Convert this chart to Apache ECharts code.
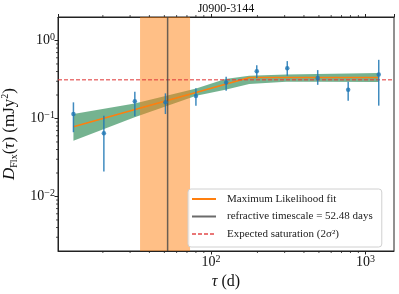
<!DOCTYPE html>
<html><head><meta charset="utf-8">
<script src="https://cdn.jsdelivr.net/npm/echarts@6/dist/echarts.min.js"></script>
<style>html,body{margin:0;padding:0;background:#fff}#c{width:399px;height:294px}</style>
</head><body><div id="c"></div>
<script>
// ---- data ----
const tau      = [12.9, 20.3, 32.2, 50.8, 80, 125.5, 198, 312, 491, 773, 1219];
const dVal     = [0.114, 0.0647, 0.166, 0.161, 0.194, 0.29, 0.402, 0.442, 0.33, 0.233, 0.367];
const errLo    = [0.0667, 0.0209, 0.107, 0.114, 0.146, 0.227, 0.33, 0.353, 0.27, 0.169, 0.146];
const errHi    = [0.161, 0.1086, 0.22, 0.21, 0.245, 0.343, 0.483, 0.544, 0.417, 0.296, 0.565];
const fitX     = [12.9, 178, 1219];
const fitY     = [0.0785, 0.336, 0.336];
const bandX    = [12.9, 32.1, 80.3, 124, 177, 307, 486, 1219];
const bandHi   = [0.114, 0.156, 0.243, 0.32, 0.352, 0.367, 0.371, 0.382];
const bandLo   = [0.052, 0.1035, 0.196, 0.233, 0.276, 0.296, 0.296, 0.293];
const spanRange = [34.8, 73.3];
const tRef     = 52.48;
const satLevel = 0.313;
const xRange   = [10.25, 1530];
const yRange   = [0.002, 2];
const xMinorTicks = [20,30,40,50,60,70,80,90,200,300,400,500,600,700,800,900];
const yMinorTicks = [0.003,0.004,0.005,0.006,0.007,0.008,0.009,0.02,0.03,0.04,0.05,0.06,0.07,0.08,0.09,0.2,0.3,0.4,0.5,0.6,0.7,0.8,0.9];
const titleText = 'J0900-3144';
const legendNames = ['Maximum Likelihood fit', 'refractive timescale = 52.48 days', 'Expected saturation (2\u03C3\u00B2)'];

const SERIF = "'Liberation Serif', 'DejaVu Serif', serif";
const chart = echarts.init(document.getElementById('c'), null, {renderer: 'canvas'});

function powLabel(v) {
  const l = Math.log10(v), e = Math.round(l);
  if (Math.abs(l - e) > 1e-6) return '';
  return '{b|10}{s|' + (e < 0 ? '\u2212' + (-e) : e) + '}';
}
const tickRich = {
  b: {fontFamily: SERIF, fontSize: 14, color: '#111', lineHeight: 16},
  s: {fontFamily: SERIF, fontSize: 10, color: '#111', lineHeight: 10, verticalAlign: 'top'}
};

const option = {
  animation: false,
  grid: {left: 58, right: 5, top: 17, bottom: 43, outerBoundsMode: 'none', containLabel: false,
         show: true, borderColor: '#222', borderWidth: 1, backgroundColor: 'transparent'},
  xAxis: [{
    type: 'log', min: xRange[0], max: xRange[1], position: 'bottom',
    axisLine: {show: true, lineStyle: {color: '#222', width: 1}},
    axisTick: {show: true, length: 3.5, lineStyle: {color: '#222'}},
    splitLine: {show: false}, minorTick: {show: false},
    axisLabel: {formatter: powLabel, rich: tickRich, margin: 3, showMinLabel: false, showMaxLabel: false},
    name: '{i|\u03C4}{n| (d)}', nameLocation: 'middle', nameGap: 20,
    nameTextStyle: {rich: {
      i: {fontFamily: SERIF, fontStyle: 'italic', fontSize: 16, color: '#111'},
      n: {fontFamily: SERIF, fontSize: 16, color: '#111'}}}
  }, {
    type: 'log', min: xRange[0], max: xRange[1], position: 'top',
    axisLine: {show: true, lineStyle: {color: '#222', width: 1}},
    axisTick: {show: true, length: 3, lineStyle: {color: '#222'}},
    axisLabel: {show: false}, splitLine: {show: false}
  }],
  yAxis: [{
    type: 'log', min: yRange[0], max: yRange[1],
    axisLine: {show: true, lineStyle: {color: '#222', width: 1}},
    axisTick: {show: true, length: 3.5, lineStyle: {color: '#222'}},
    splitLine: {show: false},
    axisLabel: {formatter: powLabel, rich: tickRich, margin: 3, showMinLabel: false, showMaxLabel: false},
    name: '{i|D}{sub|Flx}{n|(}{i|\u03C4}{n|) (mJy}{sup|2}{n|)}',
    nameLocation: 'middle', nameGap: 37, nameRotate: 90,
    nameTextStyle: {rich: {
      i: {fontFamily: SERIF, fontStyle: 'italic', fontSize: 17, color: '#111', lineHeight: 19},
      n: {fontFamily: SERIF, fontSize: 17, color: '#111', lineHeight: 19},
      sub: {fontFamily: SERIF, fontSize: 10, color: '#111', verticalAlign: 'bottom', lineHeight: 10},
      sup: {fontFamily: SERIF, fontSize: 10, color: '#111', verticalAlign: 'top', lineHeight: 10}}}
  }],
  legend: {
    orient: 'vertical', left: 188, top: 189,
    data: legendNames,
    itemWidth: 24, itemHeight: 14, itemGap: 3.5,
    padding: [3, 9, 6, 3],
    itemStyle: {opacity: 0},
    backgroundColor: 'rgba(255,255,255,0.85)', borderColor: '#d0d0d0', borderWidth: 1, borderRadius: 3,
    textStyle: {fontFamily: SERIF, fontSize: 11, color: '#222', lineHeight: 14, padding: [0, 0, 0, 6]},
    selectedMode: false
  },
  graphic: [{
    type: 'text', x: 226, y: 9,
    style: {text: titleText, textAlign: 'center', textVerticalAlign: 'middle', font: '12px ' + SERIF, fill: '#111'}
  }],
  series: [
    { // confidence band
      type: 'custom', name: 'band', silent: true, z: 2,
      data: bandX.map((x, i) => [x, bandLo[i], bandHi[i]]),
      encode: {x: 0, y: [1, 2]},
      renderItem: function (params, api) {
        if (params.dataIndex !== 0) return {type: 'group', children: []};
        const up = [], lo = [];
        for (let i = 0; i < bandX.length; i++) {
          up.push(api.coord([bandX[i], bandHi[i]]));
          lo.push(api.coord([bandX[i], bandLo[i]]));
        }
        return {type: 'polygon', shape: {points: up.concat(lo.reverse())},
          style: {fill: '#2e8b57', opacity: 0.66, stroke: 'none'}};
      }
    },
    { // refractive timescale span
      type: 'custom', name: 'span', silent: true, z: 3,
      data: [[spanRange[0], spanRange[1]]],
      encode: {x: [0, 1]},
      renderItem: function (params, api) {
        const cs = params.coordSys;
        const a = api.coord([spanRange[0], yRange[0]]);
        const b = api.coord([spanRange[1], yRange[0]]);
        return {type: 'rect', shape: {x: a[0], y: cs.y, width: b[0] - a[0], height: cs.height},
          style: {fill: '#ff7f0e', opacity: 0.5}};
      }
    },
    {
      type: 'line', name: legendNames[0], z: 4,
      data: fitX.map((x, i) => [x, fitY[i]]),
      symbol: 'none', lineStyle: {color: '#ff7f0e', width: 1.5}, itemStyle: {color: '#ff7f0e'}
    },
    {
      type: 'line', name: legendNames[1], z: 5,
      data: [[tRef, yRange[0]], [tRef, yRange[1]]],
      symbol: 'none', lineStyle: {color: 'rgba(70,70,70,0.8)', width: 1.5}, itemStyle: {color: 'rgba(70,70,70,0.8)'}
    },
    {
      type: 'line', name: legendNames[2], z: 4,
      data: [[xRange[0], satLevel], [xRange[1], satLevel]],
      symbol: 'none', lineStyle: {color: 'rgba(224,60,60,0.7)', width: 1.5, type: [4, 2]}, itemStyle: {color: 'rgba(224,60,60,0.7)'}
    },
    { // error bars
      type: 'custom', name: 'err', silent: true, z: 6,
      data: tau.map((x, i) => [x, errLo[i], errHi[i]]),
      encode: {x: 0, y: [1, 2]},
      renderItem: function (params, api) {
        const a = api.coord([api.value(0), api.value(1)]);
        const b = api.coord([api.value(0), api.value(2)]);
        return {type: 'line', shape: {x1: a[0], y1: a[1], x2: b[0], y2: b[1]},
          style: {stroke: 'rgba(31,119,180,0.85)', lineWidth: 1.5}};
      }
    },
    {
      type: 'scatter', name: 'pts', z: 7, silent: true,
      data: tau.map((x, i) => [x, dVal[i]]),
      symbol: 'circle', symbolSize: 4.5, itemStyle: {color: '#1f77b4'}
    },
    { // minor x ticks (bottom + top)
      type: 'custom', name: 'xminor', silent: true, z: 8, clip: false,
      data: xMinorTicks.map(v => [v, yRange[0]]),
      renderItem: function (params, api) {
        const cs = params.coordSys;
        const p = api.coord([api.value(0), yRange[0]]);
        const yb = cs.y + cs.height, yt = cs.y;
        return {type: 'group', children: [
          {type: 'line', shape: {x1: p[0], y1: yb, x2: p[0], y2: yb + 2}, style: {stroke: '#222', lineWidth: 0.8}},
          {type: 'line', shape: {x1: p[0], y1: yt, x2: p[0], y2: yt - 2}, style: {stroke: '#222', lineWidth: 0.8}}
        ]};
      }
    },
    { // minor y ticks (left)
      type: 'custom', name: 'yminor', silent: true, z: 8, clip: false,
      data: yMinorTicks.map(v => [xRange[0], v]),
      renderItem: function (params, api) {
        const cs = params.coordSys;
        const p = api.coord([xRange[0], api.value(1)]);
        return {type: 'line', shape: {x1: cs.x, y1: p[1], x2: cs.x - 2, y2: p[1]}, style: {stroke: '#222', lineWidth: 0.8}};
      }
    }
  ]
};
chart.setOption(option);
</script>
</body></html>
